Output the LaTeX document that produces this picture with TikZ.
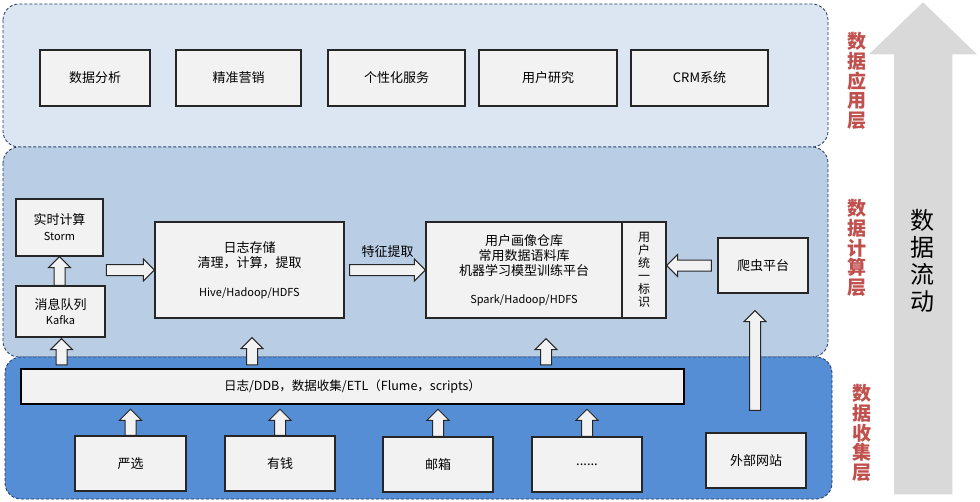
\documentclass[tikz,border=0pt]{standalone}
\usepackage{fontspec}
\setmainfont{Noto Sans CJK SC}
\usepackage{xcolor}
\usetikzlibrary{calc}

\definecolor{appbg}{RGB}{220,230,242}
\definecolor{compbg}{RGB}{185,205,229}
\definecolor{collbg}{RGB}{85,142,213}
\definecolor{panelline}{RGB}{31,56,100}
\definecolor{boxfill}{RGB}{242,242,242}
\definecolor{boxline}{RGB}{38,38,38}
\definecolor{layerred}{RGB}{192,80,77}
\definecolor{flowgray}{RGB}{217,217,217}

\tikzset{
  panel/.style={rounded corners=16pt, draw=panelline, line width=0.8pt, dash pattern=on 3pt off 2pt},
  box/.style={draw=boxline, fill=boxfill, line width=1.3pt, align=center, inner sep=0pt,
    font=\fontsize{13}{15}\selectfont},
  blk/.style={draw=boxline, fill=boxfill, line width=1pt, line join=miter},
  layerlbl/.style={text=layerred, align=center, inner sep=0pt,
    font=\fontsize{19}{19.6}\selectfont\bfseries}
}

\newcommand{\blockarr}[2]{%
  \path ($(#2)!11pt!(#1)$) coordinate (hb);
  \draw[blk] ($(#1)!5.5pt!90:(#2)$) -- ($(hb)!5.5pt!90:(#2)$) -- ($(hb)!11pt!90:(#2)$) -- (#2)
    -- ($(hb)!11pt!-90:(#2)$) -- ($(hb)!5.5pt!-90:(#2)$) -- ($(#1)!5.5pt!-90:(#2)$) -- cycle;}

\begin{document}
\begin{tikzpicture}[x=1pt,y=-1pt]
  \useasboundingbox (0,0) rectangle (980,501);
  \fill[white] (0,0) rectangle (980,501);

  % layers
  \draw[panel, fill=appbg] (3,4) rectangle (828,147);
  \draw[panel, fill=compbg] (3,147) rectangle (828,357);
  \draw[panel, fill=collbg] (5,357) rectangle (832,499);

  % data flow arrow
  \draw[fill=flowgray, draw=white, line width=1.5pt]
    (893,495) -- (893,55) -- (867,55) -- (923,1) -- (979,55) -- (953,55) -- (953,495) -- cycle;
  \node[align=center, font=\fontsize{24}{27}\selectfont] (flow) at (922,261) {数\\据\\流\\动};

  \node[layerlbl] (lapp) at (857,81) {数\\据\\应\\用\\层};
  \node[layerlbl] (lcomp) at (857,248) {数\\据\\计\\算\\层};
  \node[layerlbl] (lcoll) at (862,433) {数\\据\\收\\集\\层};

  % application layer
  \node[box, minimum width=110, minimum height=56] (ana) at (95,78) {数据分析};
  \node[box, minimum width=125, minimum height=56] (mkt) at (238.5,78) {精准营销};
  \node[box, minimum width=137, minimum height=56] (svc) at (396.5,78) {个性化服务};
  \node[box, minimum width=138, minimum height=56] (res) at (548,78) {用户研究};
  \node[box, minimum width=137, minimum height=56] (crm) at (699.5,78) {CRM系统};

  % computing layer
  \node[box, minimum width=87, minimum height=57] (storm) at (59.5,227.5)
    {实时计算\\[1pt]{\fontsize{11}{13}\selectfont Storm}};
  \node[box, minimum width=89, minimum height=51] (kafka) at (60.5,311.5)
    {消息队列\\{\fontsize{11}{13}\selectfont Kafka}};
  \node[box, minimum width=189, minimum height=96] (logbox) at (249.5,270)
    {日志存储\\清理，计算，提取\\[14pt]{\fontsize{11}{13}\selectfont Hive/Hadoop/HDFS}};
  \node[box, minimum width=196, minimum height=96] (profile) at (524,270)
    {用户画像仓库\\常用数据语料库\\机器学习模型训练平台\\[13pt]{\fontsize{11}{13}\selectfont Spark/Hadoop/HDFS}};
  \node[box, minimum width=44, minimum height=96, font=\fontsize{12}{13}\selectfont] (uid) at (644,270)
    {用\\户\\统\\一\\标\\识};
  \node[box, minimum width=90, minimum height=55] (spider) at (763,265.5) {爬虫平台};

  % collecting layer
  \node[box, line width=2.5pt, draw=black, minimum width=663, minimum height=35,
    font=\fontsize{12.5}{15}\selectfont] (etl) at (352.5,386.5)
    {日志/DDB，数据收集/ETL（Flume，scripts）};
  \node[box, minimum width=111, minimum height=55] (yx) at (130.5,463.5) {严选};
  \node[box, minimum width=110, minimum height=55] (yq) at (280,463.5) {有钱};
  \node[box, minimum width=110, minimum height=55] (yb) at (438,464.5) {邮箱};
  \node[box, minimum width=110, minimum height=55] (more) at (587,464.5) {......};
  \node[box, minimum width=100, minimum height=55] (web) at (756,460.5) {外部网站};

  % arrows
  \path (kafka.north -| storm.south) coordinate (k0) (storm.south) coordinate (k1);
  \blockarr{k0}{k1}
  \path (logbox.west) ++(-48,0) coordinate (s0);
  \blockarr{s0}{logbox.west}
  \path (logbox.east) ++(5,0) coordinate (f0);
  \blockarr{f0}{profile.west}
  \node[font=\fontsize{13}{15}\selectfont] (feat) at ($(f0)!0.5!(profile.west)+(0,-18)$) {特征提取};
  \path (spider.west) ++(-6,0) coordinate (p0) (uid.east |- p0) coordinate (p1);
  \blockarr{p0}{p1}

  \path (etl.north -| kafka.south) ++(1,-3) coordinate (e1) (kafka.south) ++(1,1) coordinate (e1t);
  \blockarr{e1}{e1t}
  \path (etl.north -| logbox.south) ++(2.5,-3) coordinate (e2) (logbox.south) ++(2.5,19) coordinate (e2t);
  \blockarr{e2}{e2t}
  \path (etl.north -| profile.south) ++(22,-3) coordinate (e3) (profile.south) ++(22,20) coordinate (e3t);
  \blockarr{e3}{e3t}

  \foreach \s in {yx,yq,yb,more}{
    \path (\s.north |- etl.south) ++(0,4) coordinate (\s t);
    \blockarr{\s.north}{\s t}
  }
  \path (web.north) ++(-1,-22) coordinate (w0) (w0 |- spider.south) ++(0,17) coordinate (w1);
  \blockarr{w0}{w1}
\end{tikzpicture}
\end{document}
